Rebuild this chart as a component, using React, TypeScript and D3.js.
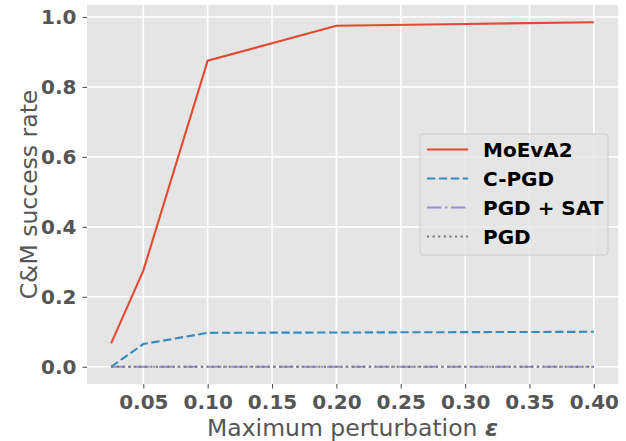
import { useEffect, useRef } from "react";
import * as d3 from "d3";

const eps = [0.025, 0.05, 0.1, 0.2, 0.3, 0.4];
const moeva = [0.067, 0.275, 0.875, 0.975, 0.98, 0.985];
const cpgd = [0.0, 0.065, 0.097, 0.098, 0.099, 0.1];
const pgdSat = [0, 0, 0, 0, 0, 0];
const pgd = [0, 0, 0, 0, 0, 0];
const xTicks = [0.05, 0.1, 0.15, 0.2, 0.25, 0.3, 0.35, 0.4];
const yTicks = [0, 0.2, 0.4, 0.6, 0.8, 1.0];

const series = [
  { name: "MoEvA2", values: moeva, color: "#E24A33", dash: "" },
  { name: "C-PGD", values: cpgd, color: "#348ABD", dash: "8.3,3.6" },
  { name: "PGD + SAT", values: pgdSat, color: "#988ED5", dash: "14.4,3.6,2.4,3.6" },
  { name: "PGD", values: pgd, color: "#777777", dash: "2.1,3.5" },
];

export default function App() {
  const ref = useRef<SVGSVGElement>(null);

  useEffect(() => {
    const svg = d3.select(ref.current);
    svg.selectAll("*").remove();

    const width = 626;
    const height = 441;
    const margin = { top: 5, right: 8, bottom: 57, left: 87 };
    const font = "DejaVu Sans";

    const x = d3.scaleLinear()
      .domain([0.00625, 0.41875])
      .range([margin.left, width - margin.right]);
    const y = d3.scaleLinear()
      .domain([-0.04925, 1.03425])
      .range([height - margin.bottom, margin.top]);

    // panel
    svg.append("rect")
      .attr("x", margin.left)
      .attr("y", margin.top)
      .attr("width", width - margin.left - margin.right)
      .attr("height", height - margin.top - margin.bottom)
      .attr("fill", "#E5E5E5");

    // grid
    const grid = svg.append("g").attr("stroke", "#fff").attr("stroke-width", 1.6);
    grid.selectAll("line.gx").data(xTicks).join("line")
      .attr("x1", d => x(d)).attr("x2", d => x(d))
      .attr("y1", margin.top).attr("y2", height - margin.bottom);
    grid.selectAll("line.gy").data(yTicks).join("line")
      .attr("x1", margin.left).attr("x2", width - margin.right)
      .attr("y1", d => y(d)).attr("y2", d => y(d));

    // axes
    const xAxis = svg.append("g")
      .attr("transform", `translate(0,${height - margin.bottom})`)
      .call(d3.axisBottom(x).tickValues(xTicks).tickFormat(d3.format(".2f")).tickSize(4.5).tickPadding(6));
    const yAxis = svg.append("g")
      .attr("transform", `translate(${margin.left},0)`)
      .call(d3.axisLeft(y).tickValues(yTicks).tickFormat(d3.format(".1f")).tickSize(4.5).tickPadding(6));
    [xAxis, yAxis].forEach(a => {
      a.select(".domain").remove();
      a.selectAll(".tick line").attr("stroke", "#555").attr("stroke-width", 1.1);
      a.selectAll(".tick text")
        .attr("fill", "#555")
        .attr("font-family", font)
        .attr("font-weight", "bold")
        .attr("font-size", 20);
    });

    // lines
    const line = d3.line<number>()
      .x((_, i) => x(eps[i]))
      .y(d => y(d));
    series.forEach(s => {
      svg.append("path")
        .attr("d", line(s.values))
        .attr("fill", "none")
        .attr("stroke", s.color)
        .attr("stroke-width", 2.1)
        .attr("stroke-dasharray", s.dash || null);
    });

    // labels
    svg.append("text")
      .attr("x", (margin.left + width - margin.right) / 2)
      .attr("y", 436)
      .attr("text-anchor", "middle")
      .attr("font-family", font)
      .attr("font-size", 23.5)
      .attr("fill", "#555")
      .call(t => {
        t.append("tspan").text("Maximum perturbation ");
        t.append("tspan").attr("font-weight", "bold").attr("font-style", "italic").text("ε");
      });
    svg.append("text")
      .attr("transform", `translate(37,${(margin.top + height - margin.bottom) / 2}) rotate(-90)`)
      .attr("text-anchor", "middle")
      .attr("font-family", font)
      .attr("font-size", 23.5)
      .attr("fill", "#555")
      .text("C&M success rate");

    // legend
    const lg = svg.append("g").attr("transform", "translate(420,134)");
    lg.append("rect")
      .attr("width", 188).attr("height", 121)
      .attr("rx", 3)
      .attr("fill", "#E5E5E5").attr("fill-opacity", 0.8)
      .attr("stroke", "#CCCCCC").attr("stroke-width", 1);
    series.forEach((s, i) => {
      const cy = 15.5 + i * 29;
      lg.append("line")
        .attr("x1", 7).attr("x2", 48)
        .attr("y1", cy).attr("y2", cy)
        .attr("stroke", s.color).attr("stroke-width", 2.1)
        .attr("stroke-dasharray", s.dash || null);
      lg.append("text")
        .attr("x", 63).attr("y", cy)
        .attr("dy", "0.36em")
        .attr("font-family", font).attr("font-weight", "bold").attr("font-size", 20)
        .attr("fill", "#000")
        .text(s.name);
    });
  }, []);

  return (
    <svg ref={ref} width={626} height={441}
      style={{ position: "absolute", left: 0, top: 0, background: "#fff" }} />
  );
}
